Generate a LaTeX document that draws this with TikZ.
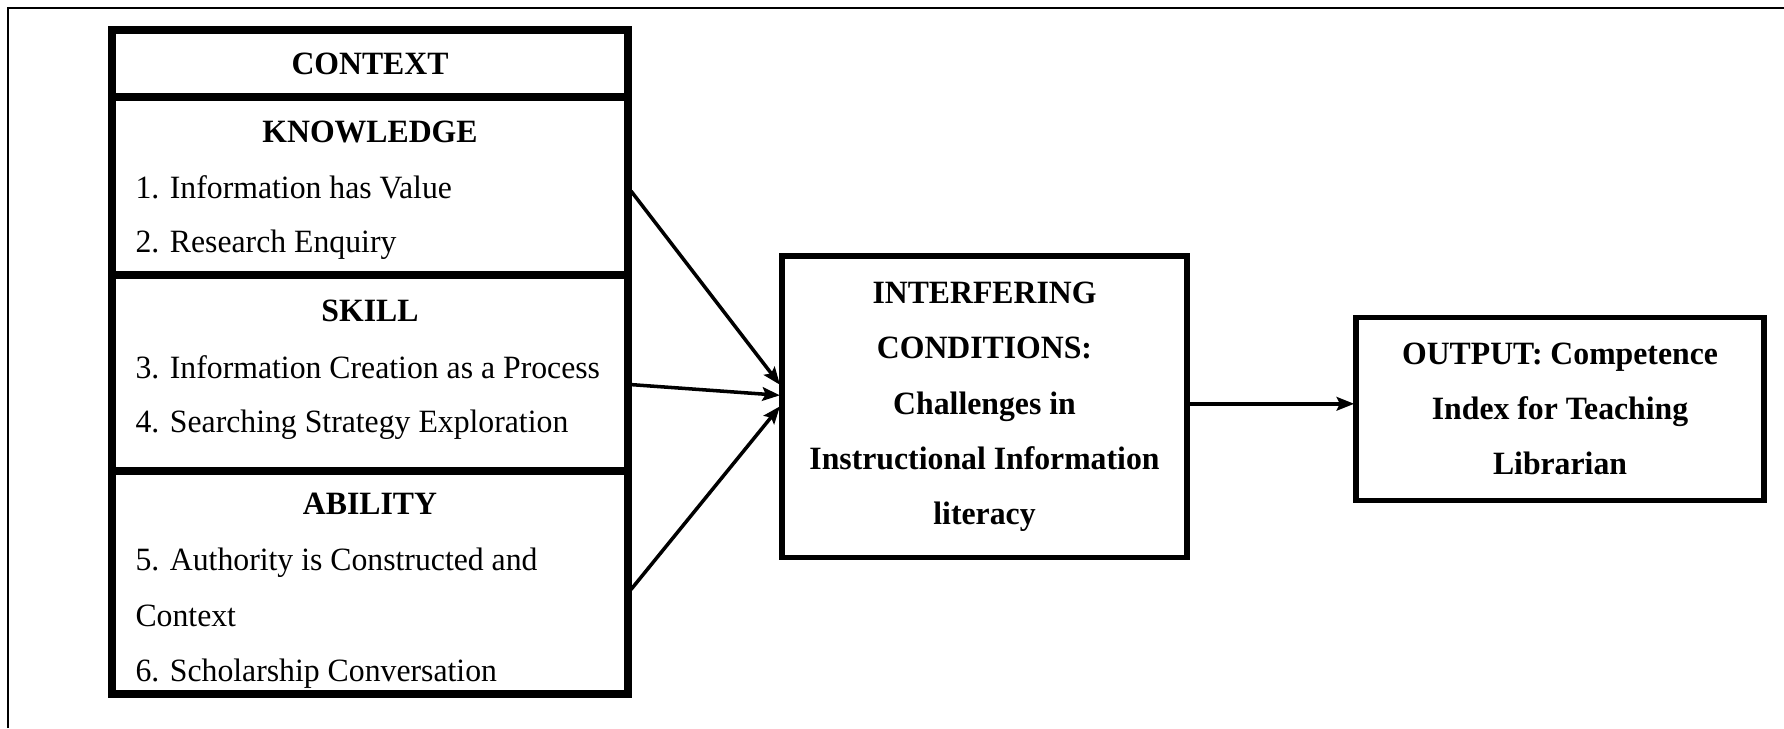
\documentclass[tikz,border=0pt]{standalone}
\usepackage{fontspec}
\setmainfont{Liberation Serif}[FakeStretch=0.976]
\usetikzlibrary{arrows.meta,calc}

\begin{document}
\begin{tikzpicture}[x=0.369pt,y=-0.369pt,
    secbox/.style={draw,line width=2.8pt,inner sep=0pt,outer sep=0pt,minimum width={\colwidth*\unit*1pt},font=\boxfontsize\bfseries},
    bigbox/.style={draw,line width=2.1pt,inner sep=0pt,outer sep=0pt,align=center,font=\boxfontsize\bfseries},
    head/.style={inner sep=0pt,anchor=mid,font=\boxfontsize\bfseries},
    item/.style={inner sep=0pt,anchor=mid west,font=\boxfontsize},
    flow/.style={line width=1.3pt,-{Stealth[length=6.5pt,width=5pt,inset=1.2pt]}}]
    \pgfmathsetmacro{\unit}{0.369}
    \pgfmathsetmacro{\colwidth}{516}
    \pgfmathsetmacro{\colx}{370}
    \pgfmathsetmacro{\itemx}{135}
    \providecommand{\boxfontsize}{\fontsize{12}{20.4}\selectfont}
    \useasboundingbox (0,0) rectangle (1784,728);
    \draw[line width=1.1pt] (8,728) -- (8,8) -- (1784,8);
    % left column
    \node[secbox,minimum height={67*\unit*1pt}] (context) at (\colx,63.5) {CONTEXT};
    \node[secbox,minimum height={178*\unit*1pt}] (knowledge) at (\colx,186) {};
    \node[secbox,minimum height={196*\unit*1pt}] (skill) at (\colx,373) {};
    \node[secbox,minimum height={223*\unit*1pt}] (ability) at (\colx,582.5) {};
    \node[head] (knowhead) at (\colx,136.5) {KNOWLEDGE};
    \node[item] (i1) at (\itemx,192.5) {1. Information has Value};
    \node[item] (i2) at (\itemx,246.5) {2. Research Enquiry};
    \node[head] (skillhead) at (\colx,315) {SKILL};
    \node[item] (i3) at (\itemx,372) {3. Information Creation as a Process};
    \node[item] (i4) at (\itemx,426.5) {4. Searching Strategy Exploration};
    \node[head] (abilityhead) at (\colx,508.5) {ABILITY};
    \node[item] (i5) at (\itemx,564.5) {5. Authority is Constructed and};
    \node[item] (i5b) at (\itemx,620) {Context};
    \node[item] (i6) at (\itemx,675.5) {6. Scholarship Conversation};
    % middle and output
    \node[bigbox,minimum width={405*\unit*1pt},minimum height={301.6*\unit*1pt}] (cond) at (984.5,406.8)
    {INTERFERING\\CONDITIONS:\\Challenges in\\Instructional Information\\literacy};
    \node[bigbox,minimum width={407.5*\unit*1pt},minimum height={183*\unit*1pt}] (out) at (1560,409)
    {OUTPUT: Competence\\Index for Teaching\\Librarian};
    % arrows
    \coordinate (k1) at ($(knowledge.east)+(3,5)$);
    \coordinate (s1) at ($(skill.east)+(3,11.6)$);
    \coordinate (a1) at ($(ability.east)+(3,7)$);
    \coordinate (c1) at ($(cond.west)+(-2,-22)$);
    \coordinate (c2) at ($(cond.west)+(-2,-11.5)$);
    \coordinate (c3) at ($(cond.west)+(-2,-0.5)$);
    \draw[flow] (k1) -- (c1);
    \draw[flow] (s1) -- (c2);
    \draw[flow] (a1) -- (c3);
    \draw[flow] ($(cond.east)+(0,-3)$) -- ($(cond.east -| out.west)+(-2,-3)$);
\end{tikzpicture}
\end{document}
